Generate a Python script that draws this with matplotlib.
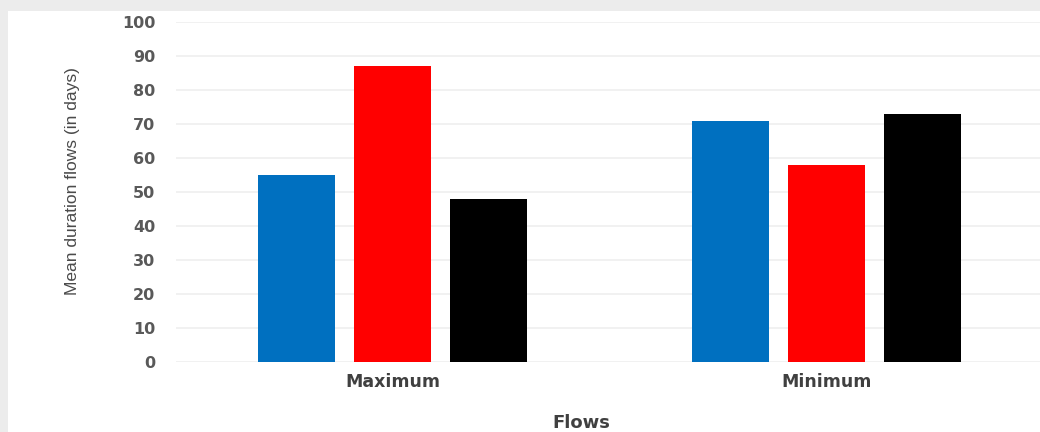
import matplotlib.pyplot as plt
import numpy as np
from matplotlib.patches import Rectangle

flows = ["Maximum", "Minimum"]
series_a = [55, 71]
series_b = [87, 58]
series_c = [48, 73]
colors = ["#0070c0", "#ff0000", "#000000"]
yticks = [0, 10, 20, 30, 40, 50, 60, 70, 80, 90, 100]

fig = plt.figure(figsize=(10.4, 4.32), dpi=100, facecolor="#ececec")
# white panel inside the grey frame
fig.patches.append(Rectangle((8 / 1040, 0), 1, (432 - 11) / 432,
                             transform=fig.transFigure, facecolor="white",
                             edgecolor="none", zorder=-1))

ax = fig.add_axes([176 / 1040, 70 / 432, 1 - 176 / 1040, 340 / 432])
ax.set_facecolor("none")
ax.set_zorder(2)

x = np.arange(len(flows))
w = 0.177
step = 0.221
for i, vals in enumerate([series_a, series_b, series_c]):
    ax.bar(x + (i - 1) * step, vals, width=w, color=colors[i], zorder=3)

ax.set_ylim(0, 100)
ax.set_xlim(-0.4988, 1.492)
ax.set_yticks(yticks)
ax.set_xticks(x)
ax.set_xticklabels(flows)
ax.grid(axis="y", color="#ededed", linewidth=1.1, zorder=0)
ax.tick_params(length=0)
ax.tick_params(axis="y", pad=15, labelsize=11.5, labelcolor="#595959")
ax.tick_params(axis="x", pad=8, labelsize=12.5, labelcolor="#404040")
for lbl in ax.get_yticklabels() + ax.get_xticklabels():
    lbl.set_fontweight("bold")
for s in ax.spines.values():
    s.set_visible(False)

fig.text(72 / 1040, 1 - 181 / 432, "Mean duration flows (in days)",
         rotation=90, ha="center", va="center", fontsize=12.5,
         family="Liberation Sans", color="#4a4a4a")
fig.text(581 / 1040, 1 - 423 / 432, "Flows", ha="center", va="center",
         fontsize=13, fontweight="bold", color="#404040")

fig.savefig("out.png", dpi=100, facecolor=fig.get_facecolor())
